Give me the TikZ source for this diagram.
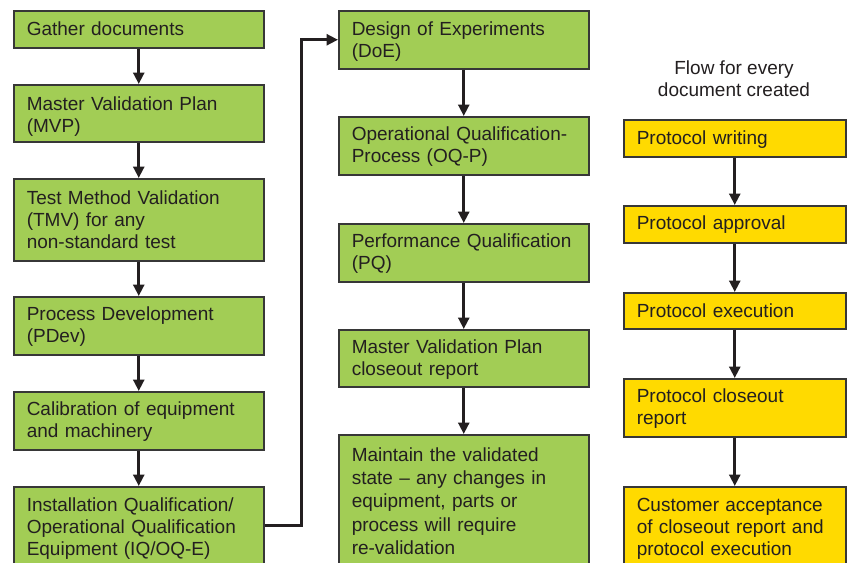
\documentclass[tikz,border=0pt]{standalone}
\usepackage{fontspec}
\setmainfont{Liberation Sans}
\usetikzlibrary{arrows.meta}
\definecolor{boxgreen}{RGB}{162,205,85}
\definecolor{boxyellow}{RGB}{255,218,0}
\definecolor{edgegray}{RGB}{55,55,55}
\definecolor{inkdark}{RGB}{35,31,32}
\begin{document}
\begin{tikzpicture}[x=1pt,y=-1pt,
  font=\fontsize{19}{22}\selectfont, text=inkdark,
  stepbox/.style={draw=edgegray, line width=1.5pt, anchor=north west, align=left,
    inner xsep=13pt, inner ysep=0pt, text height=25pt},
  gbox/.style={stepbox, fill=boxgreen, text width=224pt},
  ybox/.style={stepbox, fill=boxyellow, text width=196pt},
  arr/.style={draw=inkdark, line width=2.7pt, -{Triangle[length=11.5pt,width=11pt]}}]
\useasboundingbox (0,0) rectangle (850,562);
\clip (0,0) rectangle (850,562);
\fill[white] (0,0) rectangle (850,562);

% left column
\node[gbox, text depth=12pt] (gather) at (13,10) {Gather documents};
\node[gbox, text height=26pt, text depth=31pt] (mvp) at (13,84) {Master Validation Plan\\(MVP)};
\node[gbox, text height=26pt, text depth=56pt] (tmv) at (13,178) {Test Method Validation\\(TMV) for any\\non-standard test};
\node[gbox, text height=24pt, text depth=34pt] (pdev) at (13,296) {Process Development\\(PDev)};
\node[gbox, text height=24pt, text depth=34pt] (calib) at (13,391) {Calibration of equipment\\and machinery};
\node[gbox, text height=24.5pt, text depth=53.5pt] (iq) at (13,486) {Installation Qualification/\\Operational Qualification\\Equipment (IQ/OQ-E)};

% middle column
\node[gbox, text depth=33pt] (doe) at (338,10) {Design of Experiments\\(DoE)};
\node[gbox, text height=24pt, text depth=34pt] (oqp) at (338,116) {Operational Qualification-\\Process (OQ-P)};
\node[gbox, text height=24pt, text depth=34pt] (pq) at (338,223) {Performance Qualification\\(PQ)};
\node[gbox, text height=23.5pt, text depth=33.5pt] (mvpc) at (338,329) {Master Validation Plan\\closeout report};
\node[gbox, text height=26.5pt, text depth=113.5pt, font=\fontsize{19}{23.3}\selectfont] (maint) at (338,434) {Maintain the validated\\state – any changes in\\equipment, parts or\\process will require\\re-validation};

% right column
\node[align=center, font=\fontsize{19}{21.5}\selectfont] (title) at (734,78.5) {Flow for every\\document created};
\node[ybox, text height=24.6pt, text depth=12.4pt] (pw) at (623,119) {Protocol writing};
\node[ybox, text height=23.6pt, text depth=13.4pt] (pa) at (623,205) {Protocol approval};
\node[ybox, text height=25pt, text depth=11pt] (pe) at (623,292) {Protocol execution};
\node[ybox, text height=24pt, text depth=34pt] (pcr) at (623,378) {Protocol closeout\\report};
\node[ybox, text height=24.3pt, text depth=57.7pt] (cust) at (623,486) {Customer acceptance\\of closeout report and\\protocol execution};

% connectors
\draw[arr] (gather.south) -- (mvp.north);
\draw[arr] (mvp.south) -- (tmv.north);
\draw[arr] (tmv.south) -- (pdev.north);
\draw[arr] (pdev.south) -- (calib.north);
\draw[arr] (calib.south) -- (iq.north);
\draw[arr] (iq.east) -- ++(37,0) |- (doe.west);
\draw[arr] (doe.south) -- (oqp.north);
\draw[arr] (oqp.south) -- (pq.north);
\draw[arr] (pq.south) -- (mvpc.north);
\draw[arr] (mvpc.south) -- (maint.north);
\draw[arr] (pw.south) -- (pa.north);
\draw[arr] (pa.south) -- (pe.north);
\draw[arr] (pe.south) -- (pcr.north);
\draw[arr] (pcr.south) -- (cust.north);
\end{tikzpicture}
\end{document}
